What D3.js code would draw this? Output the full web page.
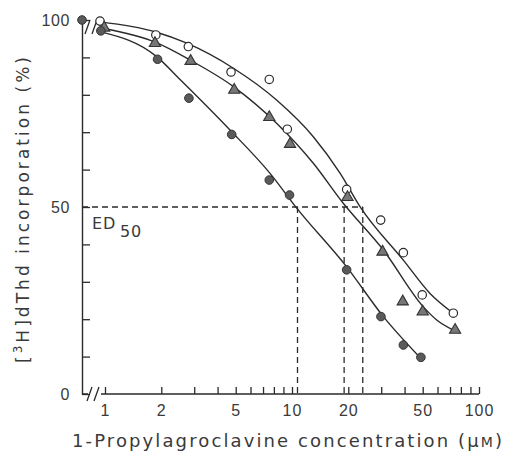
<!DOCTYPE html>
<html>
<head>
<meta charset="utf-8">
<script src="https://cdn.jsdelivr.net/npm/d3@7"></script>
<style>
  html, body { margin: 0; padding: 0; background: #fff; }
  svg { display: block; font-family: "DejaVu Sans", sans-serif; }
</style>
</head>
<body>
<svg id="chart" width="505" height="456"></svg>
<script>
// measured points, concentration in µM and incorporation in % of control
const CONC_OPEN = [0.94, 1.87, 2.79, 4.72, 7.56, 9.44, 19.6, 29.8, 39.4, 49.7, 72.9];
const PCT_OPEN = [99.7, 96.0, 92.9, 86.1, 84.1, 70.8, 54.7, 46.5, 37.8, 26.5, 21.6];

const CONC_TRI = [0.99, 1.85, 2.87, 4.91, 7.56, 9.76, 19.8, 30.5, 39.1, 50.0, 74.5];
const PCT_TRI = [97.9, 93.8, 89.0, 81.3, 74.0, 66.8, 52.6, 38.0, 24.7, 22.0, 17.1];

const CONC_FILLED = [0.95, 1.91, 2.81, 4.76, 7.56, 9.70, 19.6, 29.9, 39.4, 48.9];
const PCT_FILLED = [97.1, 89.5, 79.1, 69.4, 57.2, 53.2, 33.2, 20.7, 13.1, 9.8];

// control (no drug) value, drawn on the y axis
const CONTROL_PCT = 100;

// fitted curves
const CURVE_OPEN_C = [0.94, 1.87, 2.74, 4.86, 8.27, 13.0, 18.1, 23.1, 39.4, 54.7, 72.9];
const CURVE_OPEN_P = [99.5, 96.8, 93.8, 87.1, 78.6, 68.8, 59.0, 50.1, 35.8, 26.9, 21.6];
const CURVE_TRI_C = [0.975, 1.87, 2.85, 4.86, 8.27, 13.0, 18.8, 30.8, 50.4, 59.4, 72.9];
const CURVE_TRI_P = [97.8, 94.0, 89.3, 82.2, 72.4, 61.7, 51.0, 38.5, 23.3, 19.8, 17.1];
const CURVE_FILLED_C = [0.94, 1.89, 2.52, 4.66, 7.63, 10.6, 19.6, 30.8, 48.3];
const CURVE_FILLED_P = [96.9, 90.2, 84.1, 70.6, 59.0, 49.7, 34.0, 20.7, 9.8];

const ED50_VALUES = [10.7, 19.0, 23.9];

const X_TICKS = [1, 2, 3, 4, 5, 6, 7, 8, 9, 10, 20, 30, 40, 50, 60, 70, 80, 90, 100];
const X_LABELS = [1, 2, 5, 10, 20, 50, 100];
const Y_TICKS = [0, 10, 20, 30, 40, 50, 60, 70, 80, 90, 100];
const Y_LABELS = [0, 50, 100];

const INK = "#2b2b2b";
const TEXT_INK = "#3a3a3a";

const svg = d3.select("#chart");

const xScale = d3.scaleLog().domain([1, 100]).range([105, 479]);
const yScale = d3.scaleLinear().domain([0, 100]).range([394, 20]);
const axisX = 82;

function zip(cs, ps) {
    return cs.map((c, i) => ({ c, p: ps[i] }));
}

// y axis
svg.append("g")
    .attr("transform", `translate(${axisX},0)`)
    .call(d3.axisLeft(yScale)
        .tickValues(Y_TICKS)
        .tickSizeInner(-8)
        .tickSizeOuter(0)
        .tickPadding(12)
        .tickFormat(d => Y_LABELS.includes(d) ? d : ""))
    .call(g => {
        g.select(".domain").attr("stroke", INK).attr("stroke-width", 1.4);
        g.selectAll(".tick line").attr("stroke", INK).attr("stroke-width", 1.3);
        g.selectAll("text").attr("fill", TEXT_INK).style("font-size", "16px").style("letter-spacing", "0.6px");
    });

// x axis
svg.append("g")
    .attr("transform", `translate(0,${yScale(0)})`)
    .call(d3.axisBottom(xScale)
        .tickValues(X_TICKS)
        .tickSizeInner(-7)
        .tickSizeOuter(0)
        .tickPadding(11)
        .tickFormat(d => X_LABELS.includes(d) ? d : ""))
    .call(g => {
        g.select(".domain").remove();
        g.selectAll(".tick line").attr("stroke", INK).attr("stroke-width", 1.3);
        g.selectAll("text").attr("fill", TEXT_INK).style("font-size", "16px").style("letter-spacing", "1px");
    });

// x axis line with a break after the origin
const y0 = yScale(0);
svg.append("path")
    .attr("d", `M${axisX},${y0}H${axisX + 6}M${xScale(1) - 4},${y0}H${xScale(100)}`)
    .attr("stroke", INK).attr("stroke-width", 1.4).attr("fill", "none");

function breakMarks(cx, cy) {
    svg.append("path")
        .attr("d", `M${cx - 6},${cy + 7}L${cx - 1},${cy - 7}M${cx + 1},${cy + 7}L${cx + 6},${cy - 7}`)
        .attr("stroke", INK).attr("stroke-width", 1.3).attr("fill", "none");
}
breakMarks(axisX + 11, y0);
breakMarks(axisX + 9, yScale(CONTROL_PCT) + 7);

// ED50 guides
const ed50Y = yScale(50);
svg.append("line")
    .attr("x1", axisX).attr("x2", xScale(d3.max(ED50_VALUES)))
    .attr("y1", ed50Y).attr("y2", ed50Y)
    .attr("stroke", INK).attr("stroke-width", 1.3).attr("stroke-dasharray", "6,4");

svg.selectAll(".ed50")
    .data(ED50_VALUES)
    .enter()
    .append("line")
    .attr("x1", d => xScale(d)).attr("x2", d => xScale(d))
    .attr("y1", ed50Y).attr("y2", y0)
    .attr("stroke", INK).attr("stroke-width", 1.3).attr("stroke-dasharray", "6,4");

const edLabel = svg.append("text")
    .attr("x", 92).attr("y", 229)
    .attr("fill", TEXT_INK)
    .style("font-size", "16px")
    .style("letter-spacing", "0.8px");
edLabel.append("tspan").text("ED");
edLabel.append("tspan").attr("dx", 4).attr("dy", 8).text("50");

// fitted curves
const lineGen = d3.line()
    .x(d => xScale(d.c))
    .y(d => yScale(d.p))
    .curve(d3.curveMonotoneX);

[[CURVE_OPEN_C, CURVE_OPEN_P], [CURVE_TRI_C, CURVE_TRI_P], [CURVE_FILLED_C, CURVE_FILLED_P]]
    .forEach(([cs, ps]) => {
        svg.append("path")
            .datum(zip(cs, ps))
            .attr("fill", "none")
            .attr("stroke", INK)
            .attr("stroke-width", 1.4)
            .attr("d", lineGen);
    });

// markers
svg.selectAll(".open")
    .data(zip(CONC_OPEN, PCT_OPEN))
    .enter()
    .append("circle")
    .attr("cx", d => xScale(d.c))
    .attr("cy", d => yScale(d.p))
    .attr("r", 4.2)
    .attr("fill", "#fff")
    .attr("stroke", INK)
    .attr("stroke-width", 1.2);

const triangle = d3.symbol().type(d3.symbolTriangle).size(55);
svg.selectAll(".tri")
    .data(zip(CONC_TRI, PCT_TRI))
    .enter()
    .append("path")
    .attr("transform", d => `translate(${xScale(d.c)},${yScale(d.p)})`)
    .attr("d", triangle)
    .attr("fill", "#777")
    .attr("stroke", "#333")
    .attr("stroke-width", 1.1);

svg.selectAll(".filled")
    .data(zip(CONC_FILLED, PCT_FILLED))
    .enter()
    .append("circle")
    .attr("cx", d => xScale(d.c))
    .attr("cy", d => yScale(d.p))
    .attr("r", 4.3)
    .attr("fill", "#5a5a5a")
    .attr("stroke", "#333")
    .attr("stroke-width", 1);

svg.append("circle")
    .attr("cx", axisX)
    .attr("cy", yScale(CONTROL_PCT))
    .attr("r", 4.3)
    .attr("fill", "#5a5a5a")
    .attr("stroke", "#333")
    .attr("stroke-width", 1);

// axis titles, stretched to the width they take in the figure
const xTitle = svg.append("text")
    .attr("x", 72).attr("y", 447)
    .attr("fill", TEXT_INK)
    .attr("textLength", 430)
    .attr("lengthAdjust", "spacing")
    .style("font-size", "18px");
xTitle.append("tspan").text("1-Propylagroclavine concentration (\u03bc");
xTitle.append("tspan").style("font-size", "14px").text("M");
xTitle.append("tspan").text(")");

const yTitle = svg.append("text")
    .attr("transform", "translate(29,363) rotate(-90)")
    .attr("fill", TEXT_INK)
    .attr("textLength", 306)
    .attr("lengthAdjust", "spacing")
    .style("font-size", "17px");
yTitle.append("tspan").text("[");
yTitle.append("tspan").attr("dy", -7).style("font-size", "12px").text("3");
yTitle.append("tspan").attr("dy", 7).text("H]dThd incorporation (%)");
</script>
</body>
</html>
